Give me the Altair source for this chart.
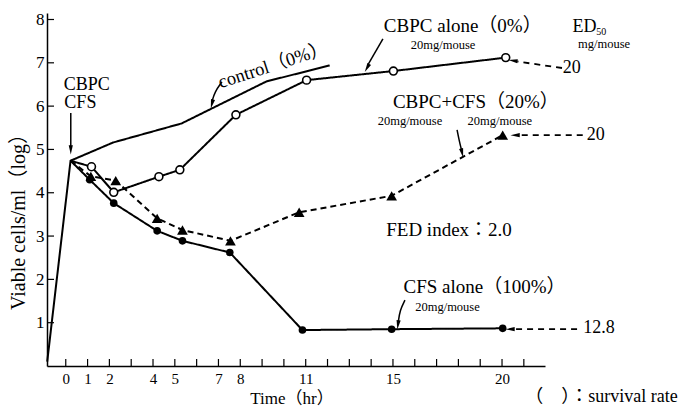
import altair as alt
import pandas as pd

# ---------------- data ----------------
ctrl_x = [-0.85, 0.22, 2.17, 5.31, 9.2, 12.1]
ctrl_y = [0.1, 4.74, 5.16, 5.6, 6.57, 6.94]

cbpc_x = [0.22, 1.18, 2.2, 4.27, 5.23, 7.8, 11.04, 15.02, 20.17]
cbpc_y = [4.74, 4.6, 4.01, 4.37, 4.53, 5.8, 6.6, 6.81, 7.12]

combo_x = [0.22, 1.15, 2.29, 4.19, 5.35, 7.55, 10.7, 14.94, 20.03]
combo_y = [4.74, 4.38, 4.28, 3.41, 3.14, 2.89, 3.55, 3.93, 5.33]

cfs_x = [0.22, 1.1, 2.2, 4.19, 5.35, 7.52, 10.85, 14.94, 20.03]
cfs_y = [4.74, 4.3, 3.76, 3.12, 2.89, 2.62, 0.83, 0.85, 0.87]

x_labels = [0, 1, 2, 4, 5, 7, 8, 11, 15, 20]
x_minor = list(range(0, 22))
y_labels = [1, 2, 3, 4, 5, 6, 7, 8]

# annotation texts: (x, y, text, size, angle)
ann_x = [0.96, 0.67, 9.5, 18.2, 17.3, 23.78, 24.55, 24.68, 23.2, 18.8, 15.78, 19.9,
         24.3, 17.57, 19.2, 17.5, 24.45, 10.37, 24.56, -2.16]
ann_y = [6.49, 6.07, 6.95, 7.85, 7.42, 7.83, 7.72, 7.44, 6.88, 6.1, 5.66, 5.66,
         5.33, 3.14, 1.82, 1.37, 0.88, -0.76, -0.72, 3.44]
ann_text = ["CBPC", "CFS", "control（0%）", "CBPC alone（0%）", "20mg/mouse", "ED", "50",
            "mg/mouse", "20", "CBPC+CFS（20%）", "20mg/mouse", "20mg/mouse",
            "20", "FED index：2.0", "CFS alone（100%）", "20mg/mouse", "12.8",
            "Time（hr）", "（　）：survival rate", "Viable cells/ml（log）"]
ann_size = [18, 18, 18.5, 19, 12.5, 18, 10, 12.5, 18, 19, 12.5, 12.5,
            18, 19, 19, 12.5, 18, 17, 18, 20]
ann_angle = [0, 0, 342, 0, 0, 0, 0, 0, 0, 0, 0, 0,
             0, 0, 0, 0, 0, 0, 0, 270]

# arrows: id, points (x, y) ; solid and dashed
arrow_id = ["a1", "a1", "a2", "a2", "a2", "a3", "a3", "a4", "a4", "a4", "a5", "a5", "a5"]
arrow_x = [0.23, 0.23, 7.16, 6.83, 6.70, 14.54, 13.85, 17.94, 18.03, 18.15, 15.55, 15.32, 15.24]
arrow_y = [5.84, 5.05, 6.56, 6.33, 6.10, 7.55, 6.95, 5.45, 5.22, 4.97, 1.52, 1.29, 1.0]
dash_id = ["d1", "d1", "d2", "d2", "d3", "d3"]
dash_x = [22.75, 20.7, 23.7, 20.75, 23.44, 20.55]
dash_y = [6.88, 7.03, 5.33, 5.33, 0.85, 0.85]
head_x = [0.23, 6.70, 13.81, 18.17, 15.23, 20.5, 20.6, 20.37]
head_y = [4.99, 6.05, 6.88, 4.92, 0.95, 7.05, 5.33, 0.85]
head_angle = [180, 194, 209, 167, 188, 278, 270, 270]

# ---------------- tables ----------------
rows = []
for name, xs, ys in [("control", ctrl_x, ctrl_y), ("cbpc", cbpc_x, cbpc_y),
                     ("combo", combo_x, combo_y), ("cfs", cfs_x, cfs_y)]:
    for i, (a, b) in enumerate(zip(xs, ys)):
        rows.append({"series": name, "x": a, "y": b, "o": i})
df = pd.DataFrame(rows)
pts = df[(df.o > 0) & (df.series != "control")]

ann = pd.DataFrame({"x": ann_x, "y": ann_y, "text": ann_text, "size": ann_size, "angle": ann_angle})
arr = pd.DataFrame({"id": arrow_id, "x": arrow_x, "y": arrow_y, "o": list(range(len(arrow_x)))})
dsh = pd.DataFrame({"id": dash_id, "x": dash_x, "y": dash_y, "o": list(range(len(dash_x)))})
heads = pd.DataFrame({"x": head_x, "y": head_y, "angle": head_angle})

W, H = 498, 353
FONT = "Liberation Serif, Noto Sans CJK JP"
xscale = alt.Scale(domain=[-0.86, 21.97], nice=False, zero=False)
yscale = alt.Scale(domain=[0, 8.15], nice=False, zero=False)

x_axis = alt.Axis(values=x_labels, title=None, grid=False, ticks=False, tickSize=0,
                  labelFont=FONT, labelFontSize=15, labelColor="black", labelPadding=5,
                  domainColor="black", domainWidth=1.5, labelFlush=False, labelOverlap=False)
y_axis = alt.Axis(values=y_labels, title=None, grid=False, ticks=False, tickSize=0,
                  labelFont=FONT, labelFontSize=17, labelColor="black", labelPadding=3,
                  domainColor="black", domainWidth=1.5, labelOverlap=False)


def X():
    return alt.X("x:Q", scale=xscale, axis=x_axis)


def Y():
    return alt.Y("y:Q", scale=yscale, axis=y_axis)


lines = alt.Chart(df).mark_line(color="black", strokeWidth=2).encode(
    x=X(), y=Y(), detail="series:N", order="o:Q",
    strokeDash=alt.StrokeDash("series:N", legend=None,
                              scale=alt.Scale(domain=["control", "cbpc", "combo", "cfs"],
                                              range=[[1, 0], [1, 0], [6, 4], [1, 0]])))

xticks = alt.Chart(pd.DataFrame({"x": x_minor})).mark_rule(color="black", strokeWidth=1.2).encode(
    x=X(), y=alt.value(H), y2=alt.value(H - 7))
yticks = alt.Chart(pd.DataFrame({"y": y_labels})).mark_rule(color="black", strokeWidth=1.2).encode(
    y=Y(), x=alt.value(0), x2=alt.value(7))

open_pts = alt.Chart(pts[pts.series == "cbpc"]).mark_circle(
    fill="white", stroke="black", strokeWidth=1.6, size=62, opacity=1, fillOpacity=1).encode(x=X(), y=Y())
fill_pts = alt.Chart(pts[pts.series == "cfs"]).mark_circle(
    color="black", size=58, opacity=1).encode(x=X(), y=Y())
tri_pts = alt.Chart(pts[pts.series == "combo"]).mark_point(
    shape="triangle-up", filled=True, color="black", size=115, opacity=1).encode(x=X(), y=Y())

arrows = alt.Chart(arr).mark_line(color="black", strokeWidth=1.5, interpolate="basis").encode(
    x=X(), y=Y(), detail="id:N", order="o:Q")
dashes = alt.Chart(dsh).mark_line(color="black", strokeWidth=1.8, strokeDash=[6, 5]).encode(
    x=X(), y=Y(), detail="id:N", order="o:Q")
heads_m = alt.Chart(heads).mark_point(
    shape="M0,-1L0.45,1L-0.45,1Z", filled=True, color="black", size=85, opacity=1).encode(
    x=X(), y=Y(), angle=alt.Angle("angle:Q", scale=None))

texts = alt.Chart(ann).mark_text(font=FONT, color="black", baseline="middle", align="center").encode(
    x=X(), y=Y(), text="text:N", size=alt.Size("size:Q", scale=None),
    angle=alt.Angle("angle:Q", scale=None))

chart = alt.layer(lines, xticks, yticks, arrows, dashes, heads_m, open_pts, fill_pts, tri_pts, texts).properties(
    width=W, height=H,
    autosize=alt.AutoSizeParams(type="none"),
    padding={"left": 47, "top": 13, "right": 133, "bottom": 43},
    background="white",
).configure_view(stroke=None)

chart.save("out.html", embed_options={"renderer": "svg", "actions": False})
